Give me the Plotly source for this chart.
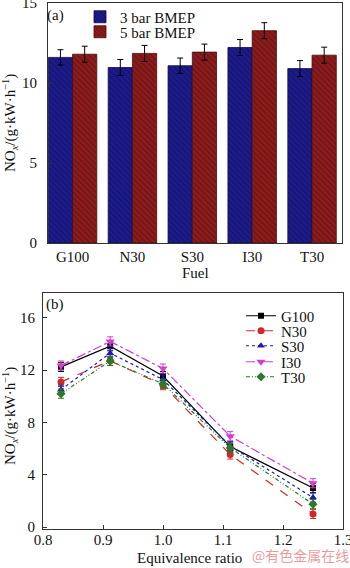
import plotly.graph_objects as go

# ---- Panel (a) data ----
fuels = ["G100", "N30", "S30", "I30", "T30"]
bmep3 = [11.6, 10.97, 11.08, 12.22, 10.9]
bmep5 = [11.8, 11.85, 11.93, 13.27, 11.74]
err3 = [0.48, 0.5, 0.48, 0.5, 0.5]
err5 = [0.5, 0.5, 0.5, 0.5, 0.5]

# ---- Panel (b) data ----
phi = [0.83, 0.912, 1.0, 1.112, 1.25]
g100 = [12.25, 13.83, 11.55, 6.15, 2.98]
n30 = [11.1, 12.72, 10.85, 5.55, 1.0]
s30 = [10.5, 13.3, 11.28, 6.2, 2.25]
i30 = [12.35, 14.2, 12.12, 6.95, 3.35]
t30 = [10.2, 12.7, 10.95, 6.05, 1.75]
errb = [0.35, 0.35, 0.35, 0.35, 0.35]

FONT = "Liberation Serif, Times New Roman, serif"
W, H = 350, 568

fig = go.Figure()

bar_specs = [
    ("3 bar BMEP", bmep3, err3, "#1c1c8e", "#0c0c48", "legend", 17),
    ("5 bar BMEP", bmep5, err5, "#8e1c1c", "#480c0c", "legend2", 32),
]
legend_layout = {}
for name, ys, er, col, fg, lg, row in bar_specs:
    fig.add_trace(go.Bar(
        x=fuels, y=ys, name=name, xaxis="x", yaxis="y", legend=lg,
        marker=dict(color=col, line=dict(color=fg, width=0.8),
                    pattern=dict(shape="\\", fgcolor=fg, bgcolor=col, size=4, solidity=0.35)),
        error_y=dict(type="data", array=er, color="black", thickness=1, width=3),
    ))
    legend_layout[lg] = dict(x=80 / W, y=1 - row / H, xanchor="left", yanchor="middle",
                             bgcolor="rgba(0,0,0,0)", font=dict(family=FONT, size=15, color="#111"),
                             itemwidth=30)

series = [
    ("G100", g100, "#000000", "solid", "square", 6, "legend3", 316),
    ("N30", n30, "#d02828", "dash", "circle", 7, "legend4", 331),
    ("S30", s30, "#1c1cb4", "dot", "triangle-up", 7, "legend5", 346),
    ("I30", i30, "#d040d0", "dashdot", "triangle-down", 8, "legend6", 362),
    ("T30", t30, "#2a7a2a", "4px 2px 1px 2px 1px 2px", "diamond", 7, "legend7", 377),
]
for name, ys, col, dash, sym, ms, lg, row in series:
    fig.add_trace(go.Scatter(
        x=phi, y=ys, name=name, xaxis="x2", yaxis="y2", legend=lg,
        mode="lines+markers",
        line=dict(color=col, width=1.2, dash=dash),
        marker=dict(symbol=sym, size=ms, color=col),
        error_y=dict(type="data", array=errb, color=col, thickness=1, width=3),
    ))
    legend_layout[lg] = dict(x=241 / W, y=1 - row / H, xanchor="left", yanchor="middle",
                             bgcolor="rgba(0,0,0,0)", font=dict(family=FONT, size=15, color="#111"),
                             itemwidth=30)

ax_common = dict(showline=True, linecolor="#333", linewidth=1, mirror=True,
                 showgrid=False, zeroline=False, ticks="inside", ticklen=4,
                 tickcolor="#333", ticklabeloverflow="allow",
                 tickfont=dict(family=FONT, size=15, color="#111"))

fig.update_layout(
    width=W, height=H, margin=dict(l=0, r=0, t=0, b=0, autoexpand=False),
    paper_bgcolor="white", plot_bgcolor="white",
    font=dict(family=FONT, size=15, color="#111"),
    barmode="group", bargap=0.19, bargroupgap=0,
    xaxis=dict(domain=[48 / W, 342 / W], anchor="y", range=[-0.41, 4.5],
               tickvals=fuels, **{k: v for k, v in ax_common.items() if k != "ticks"}, ticks=""),
    yaxis=dict(domain=[1 - 243 / H, 1 - 3 / H], anchor="x", range=[0, 15],
               tickvals=[0, 5, 10, 15], ticklabelstandoff=7, **ax_common),
    xaxis2=dict(domain=[43 / W, 343 / W], anchor="y2", range=[0.8, 1.3],
                tickvals=[0.8, 0.9, 1.0, 1.1, 1.2, 1.3],
                ticktext=["0.8", "0.9", "1.0", "1.1", "1.2", "1.3"],
                ticklabelstandoff=-3, **ax_common),
    yaxis2=dict(domain=[1 - 529 / H, 1 - 293 / H], anchor="x2", range=[-0.15, 17.9],
                tickvals=[0, 4, 8, 12, 16], ticklabelstandoff=4, **ax_common),
    showlegend=True,
    **legend_layout,
)

ann_font = dict(family=FONT, size=15, color="#111")
ytitle = "NO<sub><i>x</i></sub>/(g·kW·h<sup>−1</sup>)"
annots = [
    (ytitle, 10, 123, -90, ann_font),
    (ytitle, 10, 416, -90, ann_font),
    ("Fuel", 195, 273, 0, ann_font),
    ("Equivalence ratio", 190, 558, 0, ann_font),
    ("(a)", 55, 15, 0, ann_font),
    ("(b)", 55, 304, 0, ann_font),
    ("@有色金属在线", 300, 555, 0,
     dict(family="Noto Sans CJK SC", size=14, color="rgba(230,120,120,0.75)")),
]
for txt, px, py, ang, fnt in annots:
    fig.add_annotation(text=txt, x=px / W, y=1 - py / H, xref="paper", yref="paper",
                       xanchor="center", yanchor="middle", textangle=ang,
                       showarrow=False, font=fnt)

fig.write_html("out.html")
